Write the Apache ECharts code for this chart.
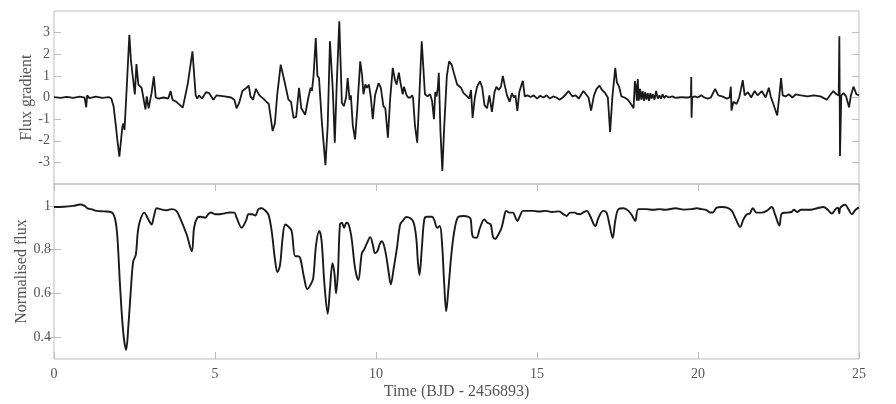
<!DOCTYPE html>
<html>
<head>
<meta charset="utf-8">
<script src="https://cdn.jsdelivr.net/npm/echarts@6/dist/echarts.min.js"></script>
<style>html,body{margin:0;padding:0;background:#fff}#c{width:896px;height:404px}</style>
</head>
<body>
<div id="c"></div>
<script>
// Time (BJD - 2456893), flux gradient
const gradientPoints = [[0,0.02],[0.2,-0.02],[0.4,0.03],[0.6,-0.02],[0.8,0.04],[0.95,-0.01],[1.0,-0.45],[1.03,0.1],[1.1,-0.03],[1.3,0.04],[1.5,-0.02],[1.7,0.02],[1.78,-0.05],[1.85,-0.4],[1.92,-1.3],[1.97,-2.0],[2.03,-2.73],[2.08,-2.0],[2.12,-1.4],[2.15,-1.2],[2.19,-1.5],[2.26,0.5],[2.34,2.9],[2.39,1.7],[2.45,1.68],[2.51,0.14],[2.56,1.55],[2.62,0.6],[2.72,0.45],[2.78,0.4],[2.84,-0.55],[2.88,0.05],[2.94,-0.5],[2.99,-0.1],[3.03,0.2],[3.1,0.98],[3.16,0.0],[3.25,-0.05],[3.4,0.0],[3.55,-0.05],[3.62,0.3],[3.68,-0.1],[3.8,-0.2],[4.0,-0.47],[4.15,0.6],[4.3,2.13],[4.4,0.1],[4.45,-0.05],[4.5,0.1],[4.6,-0.05],[4.72,0.25],[4.82,0.2],[4.95,-0.1],[5.05,0.1],[5.3,0.05],[5.5,0.0],[5.6,-0.1],[5.67,-0.5],[5.75,-0.25],[5.85,0.3],[5.98,0.45],[6.05,0.55],[6.1,0.05],[6.18,-0.1],[6.27,0.4],[6.38,0.1],[6.5,-0.05],[6.6,-0.2],[6.67,-0.3],[6.79,-1.55],[6.86,-1.2],[6.93,0.1],[7.04,1.52],[7.18,0.6],[7.28,-0.1],[7.36,-0.2],[7.44,-0.94],[7.52,-0.9],[7.61,0.45],[7.68,-0.5],[7.8,-0.8],[7.9,0.0],[7.97,0.45],[8.01,0.3],[8.06,1.0],[8.13,2.75],[8.18,1.0],[8.23,0.9],[8.32,-1.17],[8.43,-3.13],[8.5,-1.3],[8.57,2.6],[8.66,0.3],[8.72,-2.09],[8.78,0.6],[8.86,3.52],[8.94,-0.25],[9.0,-0.4],[9.07,0.0],[9.12,0.9],[9.18,-0.1],[9.22,0.1],[9.28,-1.3],[9.35,-1.94],[9.42,-0.5],[9.51,1.67],[9.57,1.0],[9.61,0.15],[9.67,0.6],[9.72,0.45],[9.78,0.6],[9.84,0.0],[9.9,-1.0],[9.97,0.1],[10.08,0.67],[10.15,0.45],[10.23,-0.4],[10.29,-0.5],[10.37,-1.86],[10.44,-0.05],[10.52,1.37],[10.59,0.8],[10.64,0.6],[10.71,1.15],[10.77,0.6],[10.83,0.15],[10.87,0.5],[10.95,0.1],[11.0,0.0],[11.07,0.0],[11.12,0.1],[11.15,0.0],[11.21,-1.3],[11.28,-2.09],[11.35,0.2],[11.42,2.6],[11.47,1.4],[11.52,0.15],[11.6,0.05],[11.68,0.15],[11.74,-0.15],[11.8,-1.0],[11.84,0.25],[11.88,0.05],[11.92,0.45],[11.95,1.14],[12.0,-1.5],[12.06,-3.4],[12.12,-1.3],[12.2,1.0],[12.27,1.67],[12.35,1.52],[12.43,1.07],[12.52,0.6],[12.64,0.45],[12.72,0.2],[12.8,0.1],[12.9,-0.05],[12.95,0.35],[13.0,-0.94],[13.07,0.0],[13.14,0.5],[13.23,0.75],[13.3,0.45],[13.37,-0.35],[13.45,-0.5],[13.52,0.1],[13.6,-0.66],[13.68,0.25],[13.74,0.5],[13.81,0.35],[13.88,0.5],[13.94,1.0],[14.0,0.55],[14.07,0.1],[14.15,-0.2],[14.22,0.2],[14.28,0.0],[14.33,0.1],[14.39,-0.62],[14.45,0.25],[14.5,0.5],[14.56,0.77],[14.62,0.05],[14.7,0.1],[14.8,0.02],[14.9,0.1],[15.0,-0.05],[15.1,0.08],[15.2,0.0],[15.3,0.1],[15.4,-0.05],[15.5,0.05],[15.6,0.0],[15.7,-0.1],[15.8,0.0],[15.9,0.15],[15.98,0.3],[16.1,0.05],[16.2,0.1],[16.3,-0.05],[16.44,0.3],[16.52,0.15],[16.6,0.0],[16.68,-0.6],[16.77,0.1],[16.85,0.4],[16.94,0.55],[17.02,0.35],[17.12,0.2],[17.2,0.0],[17.27,-1.6],[17.34,0.0],[17.43,1.37],[17.48,0.7],[17.55,0.5],[17.62,0.05],[17.72,0.0],[17.82,-0.1],[17.92,-0.3],[18.0,-0.5],[18.04,0.75],[18.07,0.5],[18.1,-0.15],[18.13,0.85],[18.16,-0.15],[18.2,0.4],[18.24,-0.1],[18.28,0.3],[18.32,-0.15],[18.36,0.25],[18.4,-0.1],[18.44,0.2],[18.48,-0.15],[18.52,0.2],[18.56,-0.05],[18.6,0.15],[18.65,-0.1],[18.7,0.3],[18.75,-0.05],[18.8,0.1],[18.85,-0.05],[18.9,0.15],[18.95,-0.03],[19.0,0.08],[19.1,0.0],[19.2,0.05],[19.3,-0.02],[19.4,0.0],[19.5,0.02],[19.6,0.0],[19.7,0.0],[19.78,0.05],[19.79,0.95],[19.8,-0.94],[19.82,0.0],[19.9,0.05],[20.0,0.0],[20.1,0.1],[20.2,0.0],[20.3,-0.05],[20.4,0.0],[20.53,0.4],[20.63,0.1],[20.75,0.05],[20.9,-0.05],[20.98,0.0],[21.02,0.5],[21.04,-0.6],[21.1,-0.2],[21.2,-0.3],[21.28,0.0],[21.33,0.35],[21.39,0.8],[21.45,0.1],[21.55,0.25],[21.65,0.0],[21.76,0.3],[21.85,0.1],[21.98,0.3],[22.1,0.0],[22.2,0.45],[22.26,0.05],[22.34,-0.3],[22.46,-0.83],[22.52,0.0],[22.58,0.9],[22.63,0.1],[22.72,0.05],[22.82,0.15],[22.93,0.0],[23.04,0.15],[23.2,0.1],[23.4,0.05],[23.6,0.1],[23.8,0.05],[24.0,-0.1],[24.1,0.1],[24.2,0.3],[24.3,0.15],[24.37,0.1],[24.39,2.83],[24.41,-2.7],[24.45,0.1],[24.52,0.2],[24.6,0.05],[24.69,-0.45],[24.75,0.1],[24.83,0.5],[24.92,0.15],[25,0.1]];

// Time (BJD - 2456893), normalised flux
const fluxPoints = [[0,0.995],[0.3,0.996],[0.6,1.0],[0.81,1.006],[0.95,1.0],[1.04,0.989],[1.15,0.985],[1.33,0.977],[1.55,0.975],[1.79,0.97],[1.9,0.938],[1.97,0.854],[2.05,0.638],[2.15,0.423],[2.24,0.342],[2.31,0.453],[2.39,0.623],[2.46,0.746],[2.54,0.776],[2.6,0.877],[2.67,0.931],[2.8,0.969],[2.93,0.938],[3.03,0.915],[3.1,0.95],[3.19,0.989],[3.3,0.985],[3.5,0.98],[3.65,0.985],[3.8,0.977],[3.91,0.946],[4.12,0.869],[4.28,0.792],[4.35,0.9],[4.45,0.946],[4.55,0.95],[4.7,0.946],[4.78,0.96],[4.87,0.97],[5.0,0.962],[5.15,0.962],[5.3,0.966],[5.45,0.97],[5.6,0.969],[5.67,0.946],[5.83,0.9],[5.97,0.935],[6.04,0.962],[6.15,0.962],[6.25,0.956],[6.35,0.985],[6.45,0.989],[6.55,0.98],[6.66,0.96],[6.76,0.885],[6.87,0.746],[6.94,0.697],[7.02,0.73],[7.1,0.854],[7.18,0.915],[7.28,0.905],[7.38,0.885],[7.49,0.77],[7.58,0.77],[7.65,0.76],[7.77,0.669],[7.87,0.62],[7.97,0.64],[8.05,0.67],[8.14,0.823],[8.24,0.885],[8.31,0.84],[8.4,0.64],[8.5,0.507],[8.57,0.62],[8.65,0.738],[8.71,0.69],[8.76,0.6],[8.82,0.7],[8.88,0.915],[8.94,0.923],[9.01,0.9],[9.08,0.923],[9.15,0.915],[9.24,0.854],[9.35,0.715],[9.45,0.661],[9.56,0.784],[9.63,0.8],[9.72,0.83],[9.82,0.857],[9.9,0.823],[9.97,0.784],[10.05,0.795],[10.11,0.823],[10.18,0.838],[10.28,0.8],[10.39,0.7],[10.46,0.641],[10.55,0.715],[10.65,0.807],[10.75,0.915],[10.83,0.931],[10.94,0.949],[11.07,0.943],[11.17,0.923],[11.25,0.854],[11.3,0.746],[11.35,0.684],[11.42,0.8],[11.5,0.938],[11.58,0.95],[11.74,0.95],[11.81,0.935],[11.9,0.9],[11.98,0.908],[12.05,0.83],[12.12,0.638],[12.18,0.518],[12.25,0.623],[12.35,0.792],[12.45,0.9],[12.56,0.95],[12.72,0.954],[12.87,0.95],[12.94,0.94],[13.0,0.861],[13.12,0.854],[13.23,0.9],[13.36,0.938],[13.46,0.923],[13.56,0.915],[13.63,0.861],[13.7,0.849],[13.8,0.869],[13.9,0.9],[13.98,0.95],[14.04,0.977],[14.14,0.969],[14.26,0.969],[14.31,0.954],[14.39,0.931],[14.47,0.954],[14.57,0.977],[14.9,0.977],[15.05,0.974],[15.26,0.977],[15.47,0.972],[15.68,0.975],[15.84,0.96],[15.92,0.954],[16.03,0.969],[16.18,0.969],[16.24,0.964],[16.34,0.962],[16.44,0.97],[16.55,0.977],[16.65,0.954],[16.81,0.908],[16.91,0.946],[17.06,0.977],[17.16,0.969],[17.25,0.915],[17.35,0.854],[17.43,0.931],[17.53,0.985],[17.69,0.989],[17.84,0.977],[17.96,0.954],[18.05,0.931],[18.15,0.985],[18.4,0.985],[18.6,0.982],[18.8,0.985],[19.0,0.982],[19.3,0.989],[19.55,0.983],[19.8,0.985],[19.96,0.989],[20.11,0.985],[20.25,0.982],[20.38,0.97],[20.46,0.97],[20.58,0.992],[20.74,0.995],[20.9,0.992],[21.05,0.977],[21.18,0.938],[21.31,0.904],[21.41,0.938],[21.52,0.962],[21.61,0.965],[21.7,0.989],[21.82,0.969],[21.98,0.969],[22.13,0.977],[22.29,0.995],[22.39,0.962],[22.53,0.91],[22.6,0.965],[22.76,0.969],[22.9,0.972],[22.98,0.982],[23.08,0.972],[23.2,0.982],[23.5,0.982],[23.7,0.989],[23.9,0.995],[24.03,0.982],[24.16,0.965],[24.27,0.985],[24.34,0.992],[24.39,0.966],[24.41,0.989],[24.48,1.0],[24.57,1.005],[24.67,0.985],[24.78,0.962],[24.88,0.98],[25,0.993]];

const timeTicks = [0, 5, 10, 15, 20, 25];
const gradientTicks = [-3, -2, -1, 0, 1, 2, 3];
const fluxTicks = [0.4, 0.6, 0.8, 1];

const FONT = 'Liberation Serif';
const TXT = '#555';
const AX = '#bdbdbd';

function tickStyle(values) {
  return {show: true, inside: true, length: 7, lineStyle: {color: AX}, customValues: values};
}

const chart = echarts.init(document.getElementById('c'), null, {renderer: 'canvas'});
chart.setOption({
  animation: false,
  backgroundColor: '#fff',
  textStyle: {fontFamily: FONT},
  grid: [
    {left: 54, right: 37, top: 11, height: 173, show: true, borderColor: AX, borderWidth: 1},
    {left: 54, right: 37, top: 184, height: 175, show: true, borderColor: AX, borderWidth: 1}
  ],
  xAxis: [
    {gridIndex: 0, type: 'value', min: 0, max: 25, interval: 5,
     axisLine: {show: false}, axisTick: {show: false}, axisLabel: {show: false}, splitLine: {show: false}},
    {gridIndex: 1, type: 'value', min: 0, max: 25, interval: 5, position: 'bottom',
     name: 'Time (BJD - 2456893)', nameLocation: 'middle', nameGap: 25, nameMoveOverlap: false,
     nameTextStyle: {fontFamily: FONT, fontSize: 16, color: TXT},
     axisLine: {show: false},
     axisTick: tickStyle(timeTicks),
     axisLabel: {fontFamily: FONT, fontSize: 14, color: TXT, margin: 8, customValues: timeTicks},
     splitLine: {show: false}},
    {gridIndex: 1, type: 'value', min: 0, max: 25, interval: 5, position: 'top',
     axisLine: {show: false},
     axisTick: tickStyle(timeTicks),
     axisLabel: {show: false}, splitLine: {show: false}}
  ],
  yAxis: [
    {gridIndex: 0, type: 'value', min: -4, max: 4, interval: 1, position: 'left',
     name: 'Flux gradient', nameLocation: 'middle', nameGap: 19, nameMoveOverlap: false,
     nameTextStyle: {fontFamily: FONT, fontSize: 16, color: TXT},
     axisLine: {show: false}, axisTick: tickStyle(gradientTicks),
     axisLabel: {fontFamily: FONT, fontSize: 14, color: TXT, margin: 4, customValues: gradientTicks},
     splitLine: {show: false}},
    {gridIndex: 0, type: 'value', min: -4, max: 4, interval: 1, position: 'right',
     axisLine: {show: false},
     axisTick: tickStyle(gradientTicks),
     axisLabel: {show: false}, splitLine: {show: false}},
    {gridIndex: 1, type: 'value', min: 0.3, max: 1.1, position: 'left',
     name: 'Normalised flux', nameLocation: 'middle', nameGap: 24, nameMoveOverlap: false,
     nameTextStyle: {fontFamily: FONT, fontSize: 16, color: TXT},
     axisLine: {show: false}, axisTick: tickStyle(fluxTicks),
     axisLabel: {fontFamily: FONT, fontSize: 14, color: TXT, margin: 3, customValues: fluxTicks,
       formatter: v => String(Math.round(v * 10) / 10)},
     splitLine: {show: false}},
    {gridIndex: 1, type: 'value', min: 0.3, max: 1.1, position: 'right',
     axisLine: {show: false},
     axisTick: tickStyle(fluxTicks),
     axisLabel: {show: false}, splitLine: {show: false}}
  ],
  series: [
    {type: 'line', xAxisIndex: 0, yAxisIndex: 0, data: gradientPoints, showSymbol: false,
     lineStyle: {color: '#1a1a1a', width: 1.8}, silent: true},
    {type: 'line', xAxisIndex: 1, yAxisIndex: 2, data: fluxPoints, showSymbol: false, smooth: 0.35,
     lineStyle: {color: '#1a1a1a', width: 1.9}, silent: true}
  ]
});
</script>
</body>
</html>
